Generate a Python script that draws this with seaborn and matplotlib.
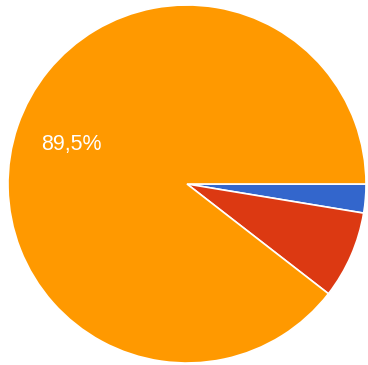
import matplotlib
matplotlib.use('Agg')
import matplotlib.pyplot as plt
import seaborn as sns

labels = ['Blue', 'Red', 'Orange']
shares = [2.6, 7.9, 89.5]
colors = ['#3366cc', '#dc3912', '#ff9900']


def pct_label(p):
    # only the big slice carries a label
    if p < 10:
        return ''
    return f'{p:.1f}%'.replace('.', ',')


sns.set_theme(style='white')
plt.rcParams['font.family'] = ['Liberation Sans', 'DejaVu Sans']

fig = plt.figure(figsize=(3.68, 3.65), dpi=100)
ax = fig.add_axes([8 / 368, 2 / 365, 358 / 368, 358 / 365])
wedges, texts, autotexts = ax.pie(
    shares, colors=colors, startangle=0, counterclock=False,
    autopct=pct_label, pctdistance=0.68,
    wedgeprops={'edgecolor': 'white', 'linewidth': 1.2},
    textprops={'color': 'white', 'fontsize': 15.5},
)
ax.set_xlim(-1, 1)
ax.set_ylim(-1, 1)
ax.set_aspect('equal')
ax.axis('off')

fig.savefig('out.png', dpi=100)
